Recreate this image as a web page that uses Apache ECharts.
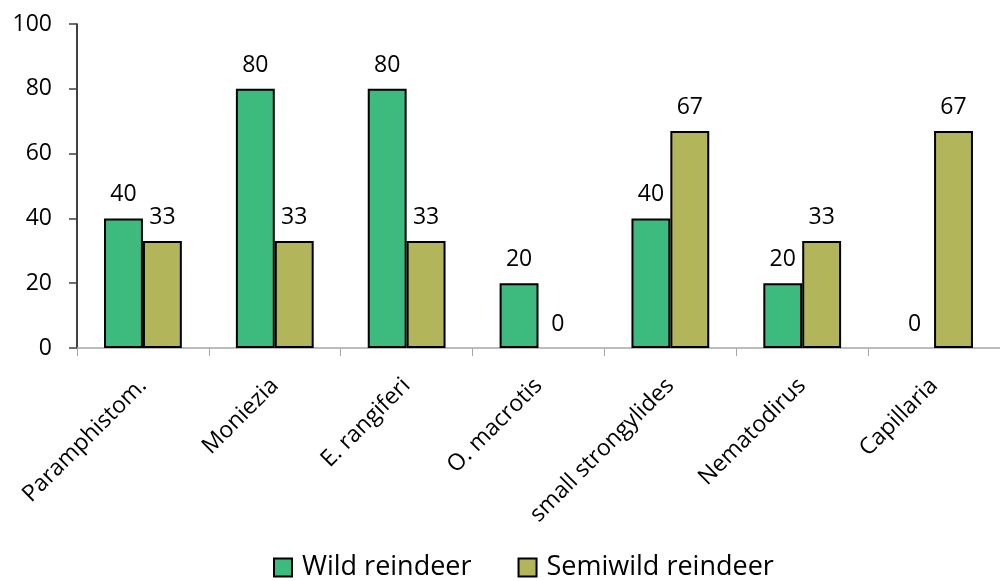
<!DOCTYPE html>
<html>
<head>
<meta charset="utf-8">
<script src="https://cdn.jsdelivr.net/npm/echarts@6/dist/echarts.min.js"></script>
<style>
  html, body { margin: 0; padding: 0; background: #fff; }
  #chart { width: 1000px; height: 581px; }
</style>
</head>
<body>
<div id="chart"></div>
<script>
// Prevalence (%) of parasite taxa in wild vs semiwild reindeer
const categories = ['Paramphistom.', 'Moniezia', 'E. rangiferi', 'O. macrotis', 'small strongylides', 'Nematodirus', 'Capillaria'];
const wildReindeer = [40, 80, 80, 20, 40, 20, 0];
const semiwildReindeer = [33, 33, 33, 0, 67, 33, 67];
const yTicks = [0, 20, 40, 60, 80, 100];

const FONT = '"Open Sans", "Noto Sans", sans-serif';
const chart = echarts.init(document.getElementById('chart'), null, { renderer: 'canvas' });

const barLabel = {
  show: true,
  position: 'top',
  distance: 12,
  color: '#000',
  fontFamily: FONT,
  fontSize: 23
};

// zero-height bars get no outline so no stray line sits on the baseline
const toBarData = values => values.map(v => (v === 0 ? { value: v, itemStyle: { borderWidth: 0 } } : v));

chart.setOption({
  animation: false,
  textStyle: { fontFamily: FONT },
  grid: { left: 77, right: -10, top: 24, bottom: 233, containLabel: false },
  legend: {
    top: 549,
    left: 268,
    itemWidth: 18,
    itemHeight: 18,
    itemGap: 46,
    icon: 'rect',
    itemStyle: { borderColor: '#000', borderWidth: 2 },
    textStyle: { color: '#000', fontFamily: FONT, fontSize: 27, padding: [0, 0, 0, 5] },
    data: ['Wild reindeer', 'Semiwild reindeer']
  },
  xAxis: {
    type: 'category',
    data: categories,
    axisLine: { lineStyle: { color: '#a6a6a6', width: 1.5 } },
    axisTick: { show: true, length: 8, lineStyle: { color: '#a6a6a6', width: 1 } },
    axisLabel: {
      rotate: 45,
      margin: 34,
      color: '#000',
      fontFamily: FONT,
      fontSize: 23,
      interval: 0
    }
  },
  yAxis: {
    type: 'value',
    min: 0,
    max: 100,
    interval: 20,
    splitLine: { show: false },
    axisLine: { show: true, lineStyle: { color: '#000', width: 1.5 } },
    axisTick: { show: true, length: 8, lineStyle: { color: '#404040', width: 1.5 } },
    axisLabel: {
      margin: 25,
      color: '#000',
      fontFamily: FONT,
      fontSize: 23,
      formatter: v => (yTicks.includes(v) ? String(v) : '')
    }
  },
  series: [
    {
      name: 'Wild reindeer',
      type: 'bar',
      data: toBarData(wildReindeer),
      barGap: '0%',
      barCategoryGap: '41%',
      itemStyle: { color: '#3dbb7f', borderColor: '#000', borderWidth: 2 },
      label: barLabel
    },
    {
      name: 'Semiwild reindeer',
      type: 'bar',
      data: toBarData(semiwildReindeer),
      barGap: '0%',
      barCategoryGap: '41%',
      itemStyle: { color: '#b3b55a', borderColor: '#000', borderWidth: 2 },
      label: barLabel
    }
  ]
});
</script>
</body>
</html>
